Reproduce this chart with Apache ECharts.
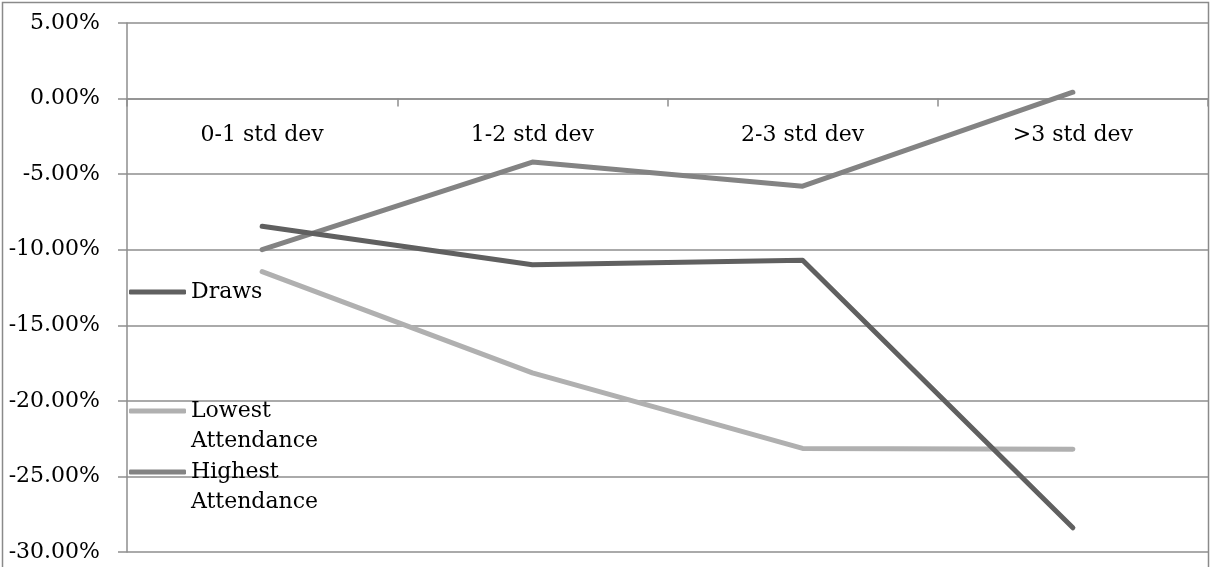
<!DOCTYPE html>
<html>
<head>
<meta charset="utf-8">
<style>
  html, body { margin: 0; padding: 0; background: #fff; }
  #chart { width: 1211px; height: 567px; }
</style>
<script src="https://cdn.jsdelivr.net/npm/echarts@6/dist/echarts.min.js"></script>
</head>
<body>
<div id="chart"></div>
<script>
// Deviation bands on the x axis
const categories = ['0-1 std dev', '1-2 std dev', '2-3 std dev', '>3 std dev'];

// Percentage change per band
const draws = [-8.45, -11.0, -10.7, -28.4];
const lowestAttendance = [-11.45, -18.15, -23.15, -23.2];
const highestAttendance = [-10.0, -4.2, -5.8, 0.42];

// Value axis ticks
const yTicks = { min: -30, max: 5, interval: 5 };

const seriesNames = ['Draws', 'Lowest Attendance', 'Highest Attendance'];
const seriesColors = ['#606060', '#b0b0b0', '#838383'];
const seriesValues = [draws, lowestAttendance, highestAttendance];

const FONT = '"DejaVu Serif", "Liberation Serif", serif';
const FONT_SIZE = 22;
const GRID_COLOR = '#8e8e8e';

const chart = echarts.init(document.getElementById('chart'), null, { renderer: 'canvas' });

// Legend entries wrap onto two lines; a blank first line keeps the
// symbol level with the first word
const legendTop = [272, 361, 422];
const legends = seriesNames.map((name, i) => ({
  data: [name],
  left: 124,
  top: legendTop[i],
  orient: 'vertical',
  icon: 'roundRect',
  itemWidth: 57,
  itemHeight: 5,
  itemGap: 0,
  formatter: n => (n.indexOf(' ') >= 0 ? ' \n' + n.replace(' ', '\n') : n),
  textStyle: {
    fontFamily: FONT,
    fontSize: FONT_SIZE,
    color: '#000',
    lineHeight: 30
  },
  selectedMode: false
}));

chart.setOption({
  animation: false,
  backgroundColor: '#fff',
  grid: { left: 127, right: 3, top: 23, bottom: 15, containLabel: false, outerBoundsMode: 'none' },
  legend: legends,
  graphic: [{
    type: 'rect',
    shape: { x: 2.5, y: 2.5, width: 1206, height: 580 },
    style: { fill: 'none', stroke: '#8a8a8a', lineWidth: 1.5 },
    silent: true
  }],
  xAxis: {
    type: 'category',
    data: categories,
    boundaryGap: true,
    axisLine: { onZero: false, lineStyle: { color: GRID_COLOR, width: 1.5 } },
    axisTick: { show: true, length: 8, lineStyle: { color: GRID_COLOR, width: 1.5 } },
    axisLabel: { fontFamily: FONT, fontSize: FONT_SIZE, color: '#000', margin: 26 }
  },
  yAxis: {
    type: 'value',
    min: yTicks.min,
    max: yTicks.max,
    interval: yTicks.interval,
    axisLine: { show: true, lineStyle: { color: GRID_COLOR, width: 1.5 } },
    axisTick: { show: true, length: 9, lineStyle: { color: GRID_COLOR, width: 1.5 } },
    splitLine: { show: true, lineStyle: { color: GRID_COLOR, width: 1.5 } },
    axisLabel: {
      fontFamily: FONT, fontSize: FONT_SIZE, color: '#000', margin: 27,
      formatter: v => v.toFixed(2) + '%'
    }
  },
  series: seriesNames.map((name, i) => ({
    name: name,
    type: 'line',
    data: seriesValues[i],
    symbol: 'none',
    color: seriesColors[i],
    lineStyle: { color: seriesColors[i], width: 5, cap: 'round', join: 'round' },
    z: 3 - i
  }))
});

// Move the category axis (line, ticks and labels) up to the 0% line
const zeroY = chart.convertToPixel({ yAxisIndex: 0 }, 0);
const baseY = chart.convertToPixel({ yAxisIndex: 0 }, yTicks.min);
chart.setOption({ xAxis: { offset: zeroY - baseY } });
</script>
</body>
</html>
